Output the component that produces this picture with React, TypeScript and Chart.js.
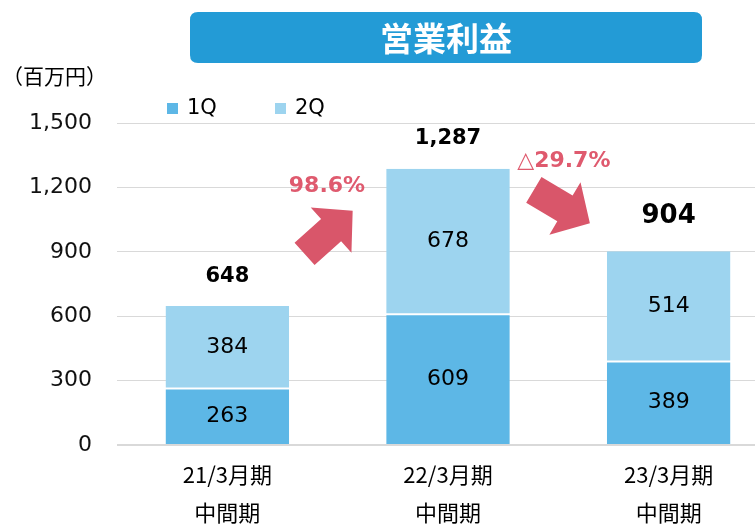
import React, { useEffect, useRef } from "react";
import { Chart, registerables } from "chart.js";

Chart.register(...registerables);

// ---- data ----
const categories = [
  ["21/3月期", "中間期"],
  ["22/3月期", "中間期"],
  ["23/3月期", "中間期"],
];
const seriesNames = ["1Q", "2Q"];
const series1Q = [263, 609, 389];
const series2Q = [384, 678, 514];
const totals = [648, 1287, 904];
const yMin = 0;
const yMax = 1500;
const yStep = 300;
const growthLabels = ["98.6%", "△29.7%"];
const chartTitle = "営業利益";
const unitLabel = "（百万円）";

// ---- styling / annotation placement (category index, value) ----
const COLORS = ["#5DB7E6", "#9DD4EF"];
const TITLE_BG = "#239BD6";
const ARROW_COLOR = "#D9566A";
const GROWTH_COLOR = "#DF5A6E";
const arrowPlacement = [
  { from: [0.35, 890], to: [0.568, 1091], label: [0.4515, 1206] },
  { from: [1.389, 1188], to: [1.643, 1033], label: [1.525, 1321] },
];
const NUM_FONT = "'DejaVu Sans', Verdana, sans-serif";
const JP_FONT = "'Noto Sans CJK JP', sans-serif";

function drawArrow(
  ctx: CanvasRenderingContext2D,
  x0: number,
  y0: number,
  x1: number,
  y1: number,
  shaft: number,
  headW: number,
  headL: number
) {
  const dx = x1 - x0;
  const dy = y1 - y0;
  const len = Math.hypot(dx, dy);
  const ux = dx / len;
  const uy = dy / len;
  const nx = -uy;
  const ny = ux;
  const bx = x1 - ux * headL;
  const by = y1 - uy * headL;
  const s = shaft / 2;
  const h = headW / 2;
  ctx.beginPath();
  ctx.moveTo(x0 + nx * s, y0 + ny * s);
  ctx.lineTo(bx + nx * s, by + ny * s);
  ctx.lineTo(bx + nx * h, by + ny * h);
  ctx.lineTo(x1, y1);
  ctx.lineTo(bx - nx * h, by - ny * h);
  ctx.lineTo(bx - nx * s, by - ny * s);
  ctx.lineTo(x0 - nx * s, y0 - ny * s);
  ctx.closePath();
  ctx.fill();
}

const overlayPlugin = {
  id: "overlay",
  afterDatasetsDraw(chart: any) {
    const ctx: CanvasRenderingContext2D = chart.ctx;
    const xs = chart.scales.x;
    const ys = chart.scales.y;
    ctx.save();

    // segment labels
    ctx.fillStyle = "#000";
    ctx.textAlign = "center";
    ctx.textBaseline = "middle";
    ctx.font = `22px ${NUM_FONT}`;
    chart.data.datasets.forEach((ds: any, di: number) => {
      const meta = chart.getDatasetMeta(di);
      meta.data.forEach((el: any, i: number) => {
        const v = ds.data[i];
        ctx.fillText(String(v), el.x, (el.y + el.base) / 2);
      });
    });

    // totals above bars
    const topMeta = chart.getDatasetMeta(chart.data.datasets.length - 1);
    topMeta.data.forEach((el: any, i: number) => {
      const last = i === totals.length - 1;
      const size = last ? 26 : 21;
      ctx.font = `bold ${size}px ${NUM_FONT}`;
      ctx.fillText(totals[i].toLocaleString("en-US"), el.x, el.y - (last ? 35 : 30));
    });

    // growth arrows
    ctx.fillStyle = ARROW_COLOR;
    arrowPlacement.forEach((a) => {
      drawArrow(
        ctx,
        xs.getPixelForValue(a.from[0]),
        ys.getPixelForValue(a.from[1]),
        xs.getPixelForValue(a.to[0]),
        ys.getPixelForValue(a.to[1]),
        30,
        61,
        29
      );
    });

    // growth labels
    ctx.fillStyle = GROWTH_COLOR;
    ctx.textBaseline = "middle";
    growthLabels.forEach((txt, i) => {
      const a = arrowPlacement[i];
      const cx = xs.getPixelForValue(a.label[0]);
      const cy = ys.getPixelForValue(a.label[1]);
      if (txt.startsWith("△")) {
        const rest = txt.slice(1);
        ctx.font = `22px ${NUM_FONT}`;
        const w1 = ctx.measureText("△").width;
        ctx.font = `bold 22px ${NUM_FONT}`;
        const w2 = ctx.measureText(rest).width;
        const start = cx - (w1 + w2) / 2;
        ctx.textAlign = "left";
        ctx.font = `22px ${NUM_FONT}`;
        ctx.fillText("△", start, cy);
        ctx.font = `bold 22px ${NUM_FONT}`;
        ctx.fillText(rest, start + w1, cy);
      } else {
        ctx.textAlign = "center";
        ctx.font = `bold 22px ${NUM_FONT}`;
        ctx.fillText(txt, cx, cy);
      }
    });
    ctx.restore();
  },
  afterDraw(chart: any) {
    const ctx: CanvasRenderingContext2D = chart.ctx;
    ctx.save();
    // title box
    const bx = 190, by = 12, bw = 512, bh = 51, r = 8;
    ctx.fillStyle = TITLE_BG;
    ctx.beginPath();
    ctx.moveTo(bx + r, by);
    ctx.lineTo(bx + bw - r, by);
    ctx.quadraticCurveTo(bx + bw, by, bx + bw, by + r);
    ctx.lineTo(bx + bw, by + bh - r);
    ctx.quadraticCurveTo(bx + bw, by + bh, bx + bw - r, by + bh);
    ctx.lineTo(bx + r, by + bh);
    ctx.quadraticCurveTo(bx, by + bh, bx, by + bh - r);
    ctx.lineTo(bx, by + r);
    ctx.quadraticCurveTo(bx, by, bx + r, by);
    ctx.closePath();
    ctx.fill();
    ctx.fillStyle = "#FFFFFF";
    ctx.font = `bold 33px ${JP_FONT}`;
    ctx.textAlign = "center";
    ctx.textBaseline = "middle";
    ctx.fillText(chartTitle, bx + bw / 2, by + bh / 2 + 1);

    // unit label
    ctx.fillStyle = "#000";
    ctx.font = `21px ${JP_FONT}`;
    ctx.textAlign = "left";
    ctx.fillText(unitLabel, 2, 76);

    // legend
    const legendX = [167, 275];
    ctx.font = `21px ${NUM_FONT}`;
    seriesNames.forEach((name, i) => {
      ctx.fillStyle = COLORS[i];
      ctx.fillRect(legendX[i], 103, 11, 11);
      ctx.fillStyle = "#000";
      ctx.fillText(name, legendX[i] + 20, 109);
    });
    ctx.restore();
  },
};

export default function App() {
  const ref = useRef<HTMLCanvasElement | null>(null);

  useEffect(() => {
    if (!ref.current) return;
    const chart = new Chart(ref.current, {
      type: "bar",
      data: {
        labels: categories as any,
        datasets: [
          {
            label: seriesNames[0],
            data: series1Q,
            backgroundColor: COLORS[0],
            borderColor: "#FFFFFF",
            borderWidth: { top: 1, bottom: 0, left: 0, right: 0 },
            borderSkipped: false,
            stack: "s",
            categoryPercentage: 1,
            barPercentage: 0.56,
          } as any,
          {
            label: seriesNames[1],
            data: series2Q,
            backgroundColor: COLORS[1],
            borderColor: "#FFFFFF",
            borderWidth: { top: 0, bottom: 1, left: 0, right: 0 },
            borderSkipped: false,
            stack: "s",
            categoryPercentage: 1,
            barPercentage: 0.56,
          } as any,
        ],
      },
      options: {
        animation: false,
        responsive: false,
        devicePixelRatio: 1,
        layout: { padding: { top: 123, left: 0, right: 1, bottom: 0 } },
        plugins: {
          legend: { display: false },
          tooltip: { enabled: false },
          title: { display: false },
        },
        scales: {
          x: {
            stacked: true,
            afterFit: (scale: any) => {
              scale.height = 100;
            },
            grid: { display: false, drawTicks: false },
            border: { display: false },
            ticks: {
              color: "#000",
              padding: 11,
              font: { family: JP_FONT, size: 22, lineHeight: "38px" } as any,
              maxRotation: 0,
              autoSkip: false,
            },
          },
          y: {
            stacked: true,
            min: yMin,
            max: yMax,
            afterFit: (scale: any) => {
              scale.width = 117;
            },
            grid: {
              color: "#D9D9D9",
              lineWidth: (c: any) => (c.tick && c.tick.value === 0 ? 2 : 1),
              drawTicks: false,
            },
            border: { display: false },
            ticks: {
              stepSize: yStep,
              padding: 25,
              color: "#111",
              font: { family: NUM_FONT, size: 22 },
              callback: (v: any) => Number(v).toLocaleString("en-US"),
            },
          },
        },
      },
      plugins: [overlayPlugin],
    });
    return () => chart.destroy();
  }, []);

  return (
    <div
      style={{
        position: "fixed",
        left: 0,
        top: 0,
        width: 755,
        height: 525,
        overflow: "hidden",
        background: "#fff",
      }}
    >
      <canvas ref={ref} width={780} height={545} style={{ display: "block" }} />
    </div>
  );
}
